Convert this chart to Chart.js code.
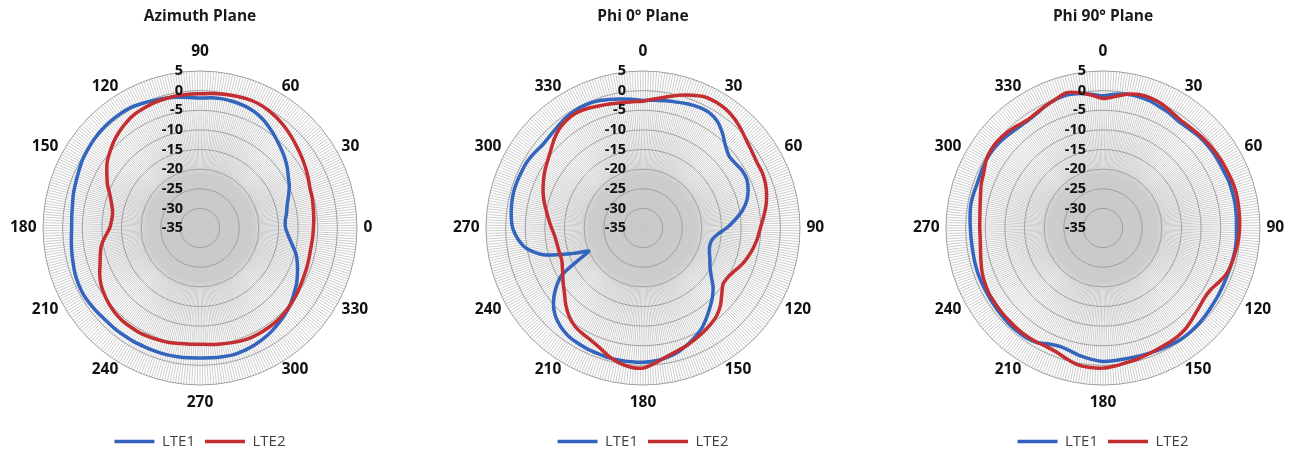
<!DOCTYPE html>
<html>
<head>
<meta charset="utf-8">
<script src="https://cdn.jsdelivr.net/npm/chart.js@4/dist/chart.umd.min.js"></script>
<style>
html,body{margin:0;padding:0;background:#fff;overflow:hidden;width:1296px;height:455px;}
.box{position:absolute;top:0;width:420px;height:462px;}
canvas{display:block;}
</style>
</head>
<body>
<div class="box" style="left:-10px"><canvas id="c1" width="420" height="462"></canvas></div>
<div class="box" style="left:433px"><canvas id="c2" width="420" height="462"></canvas></div>
<div class="box" style="left:893px"><canvas id="c3" width="420" height="462"></canvas></div>
<script>
// ---------- data ----------
const seriesNames = ['LTE1', 'LTE2'];
const chartTitles = ['Azimuth Plane', 'Phi 0\u00B0 Plane', 'Phi 90\u00B0 Plane'];

// radial axis (dB)
const radialMin = -35, radialMax = 5, radialStep = 5;
const innerShadeTo = -20;   // the dense-spoke grey core reaches this ring

// angle labels, clockwise from the top
const azimuthAngleLabels = ['90','60','30','0','330','300','270','240','210','180','150','120'];
const phiAngleLabels = ['0','30','60','90','120','150','180','210','240','270','300','330'];

// measurement angles (degrees)
const step5Angles = Array.from({length: 72}, (_, k) => k * 5);
const azAngles = step5Angles;
const phi0Angles = [...step5Angles.slice(0, 50), 247, ...step5Angles.slice(50)];
const phi90Angles = step5Angles;

// Azimuth plane (angle counter-clockwise, 0 at right)
const azLTE1 = [-13.2,-13.2,-12.6,-12.0,-11.0,-9.9,-9.0,-7.9,-6.9,-6.0,
  -5.0,-4.0,-3.0,-2.3,-1.9,-1.7,-1.6,-1.7,-1.9,-1.6,
  -1.2,-0.8,-0.4,0.0,0.4,0.5,0.5,0.4,0.2,-0.1,
  -0.4,-0.9,-1.3,-1.6,-2.0,-2.2,-2.3,-2.1,-1.8,-1.5,
  -1.1,-0.9,-0.8,-1.0,-1.2,-1.4,-1.4,-1.5,-1.5,-1.6,
  -1.6,-1.6,-1.7,-1.8,-1.9,-1.8,-1.7,-1.6,-1.8,-2.1,
  -2.5,-3.0,-3.6,-4.2,-4.9,-5.8,-6.6,-7.6,-8.6,-9.7,
  -11.2,-12.4];
const azLTE2 = [-6.1,-5.9,-5.7,-5.4,-5.2,-4.6,-4.0,-3.4,-2.8,-2.1,
  -1.4,-0.8,-0.3,0.0,0.0,-0.2,-0.4,-0.6,-0.8,-0.8,
  -0.8,-0.9,-1.0,-1.3,-1.6,-2.2,-3.0,-3.9,-5.0,-6.1,
  -7.6,-9.0,-10.6,-11.7,-12.4,-12.4,-12.0,-10.8,-9.5,-8.7,
  -7.9,-6.8,-5.9,-5.3,-4.8,-4.4,-4.2,-4.2,-4.2,-4.4,
  -4.6,-4.8,-5.1,-5.3,-5.4,-5.2,-5.0,-4.7,-4.4,-4.2,
  -4.2,-4.2,-4.3,-4.5,-4.8,-5.1,-5.5,-5.8,-6.0,-6.2,
  -6.3,-6.2];

// Phi 0 plane (clockwise, 0 at top)
const phi0LTE1 = [-2.5,-2.3,-2.1,-1.8,-1.4,-1.1,-1.1,-1.9,-3.5,-5.3,
  -6.4,-6.3,-5.8,-5.8,-6.5,-7.6,-9.3,-11.5,-13.7,-16.0,
  -17.2,-17.4,-17.0,-16.2,-15.3,-13.8,-11.7,-10.0,-8.5,-6.9,
  -5.3,-4.1,-3.0,-2.0,-1.4,-1.0,-0.8,-0.8,-0.8,-0.8,
  -1.0,-1.1,-1.3,-1.6,-2.3,-3.4,-5.2,-7.8,-11.2,-18.3,
  -20.0,
  -16.1,-8.7,-4.9,-3.0,-1.8,-1.3,-1.0,-0.8,-0.8,-0.9,
  -1.0,-1.4,-1.8,-1.6,-1.2,-0.7,-0.4,-0.4,-0.6,-1.1,-1.6,-2.1];
const phi0LTE2 = [-2.7,-2.0,-1.1,0.0,1.0,1.9,2.1,1.9,1.3,0.4,
  -0.5,-1.1,-1.5,-1.5,-1.8,-2.4,-3.2,-4.2,-5.1,-5.7,
  -6.4,-7.2,-8.1,-9.2,-10.0,-10.1,-8.8,-7.1,-5.8,-5.0,
  -4.3,-3.7,-3.0,-2.4,-1.6,-0.4,0.7,0.6,-0.1,-1.2,
  -2.6,-3.5,-4.0,-4.6,-5.7,-7.2,-8.9,-10.2,-11.4,-12.3,
  -12.6,
  -12.8,-12.8,-12.7,-12.4,-11.7,-10.9,-10.0,-8.9,-7.9,-7.0,
  -6.1,-5.3,-4.3,-3.0,-1.9,-1.3,-1.1,-1.4,-1.9,-2.3,-2.6,-2.7];

// Phi 90 plane (clockwise, 0 at top)
const phi90LTE1 = [-1.3,-0.8,-0.4,-0.3,-0.5,-0.9,-1.2,-1.7,-1.6,-1.3,
  -1.1,-1.0,-1.0,-1.0,-0.8,-0.8,-0.8,-0.9,-1.0,-0.9,
  -0.9,-1.0,-1.1,-1.1,-1.0,-0.9,-0.7,-0.5,-0.4,-0.4,
  -0.6,-0.8,-1.0,-1.1,-1.2,-1.1,-1.0,-1.4,-1.9,-2.6,
  -2.9,-2.4,-1.3,-0.9,-0.8,-0.8,-0.9,-1.0,-1.1,-1.1,
  -1.1,-1.2,-1.3,-1.3,-1.2,-1.0,-0.8,-0.9,-1.0,-0.8,
  -0.6,-0.6,-0.8,-1.2,-1.5,-1.6,-1.3,-0.6,-0.1,0.1,-0.2,-0.8];
const phi90LTE2 = [-2.0,-1.4,-0.4,0.2,0.3,0.0,-0.6,-1.1,-1.1,-0.9,
  -0.7,-0.5,-0.3,-0.2,0.0,0.1,0.0,-0.1,-0.2,-0.4,
  -0.7,-1.0,-1.4,-2.4,-3.4,-3.6,-3.2,-2.6,-1.9,-1.5,
  -1.3,-1.2,-0.9,-0.5,-0.2,0.3,0.7,0.7,0.5,-0.3,
  -1.2,-1.5,-1.4,-1.3,-1.3,-1.4,-1.4,-1.5,-1.5,-1.8,
  -2.2,-2.8,-3.3,-3.6,-3.6,-3.5,-3.2,-2.7,-2.0,-1.5,
  -0.6,-0.2,-0.2,-0.5,-1.0,-1.4,-1.1,-0.6,0.0,0.7,0.0,-1.0];

// ---------- styling ----------
const BLUE = 'rgb(52,101,190)';
const RED = 'rgb(196,46,48)';
const SPOKES = 360;          // one angle line per degree
const FONT = '"Open Sans", "DejaVu Sans", sans-serif';
Chart.defaults.font.family = FONT;

function buildLabels(angleLabels) {
  const out = new Array(SPOKES).fill('');
  const every = SPOKES / angleLabels.length;
  angleLabels.forEach((t, k) => { out[k * every] = t; });
  return out;
}
function expand(angles, values, toIndex) {
  const out = new Array(SPOKES).fill(null);
  angles.forEach((a, k) => { out[toIndex(a)] = values[k]; });
  return out;
}
const azIndex = a => ((90 - a) % 360 + 360) % 360;
const phiIndex = a => a % 360;

const polarDecor = {
  id: 'polarDecor',
  beforeDatasetsDraw(chart) {
    const s = chart.scales.r, ctx = chart.ctx;
    ctx.save();
    // soft grey core where the spokes converge
    const rc = s.getDistanceFromCenterForValue(innerShadeTo);
    const g = ctx.createRadialGradient(s.xCenter, s.yCenter, 0, s.xCenter, s.yCenter, rc + 4);
    g.addColorStop(0, 'rgba(200,200,200,1)');
    g.addColorStop(0.85, 'rgba(204,204,204,0.95)');
    g.addColorStop(1, 'rgba(210,210,210,0)');
    ctx.fillStyle = g;
    ctx.beginPath();
    ctx.arc(s.xCenter, s.yCenter, rc + 4, 0, Math.PI * 2);
    ctx.fill();
    // rings
    ctx.strokeStyle = '#a0a0a0';
    ctx.lineWidth = 1;
    s.ticks.forEach(t => {
      const d = s.getDistanceFromCenterForValue(t.value);
      if (d <= 0) return;
      ctx.beginPath();
      ctx.arc(s.xCenter, s.yCenter, d, 0, Math.PI * 2);
      ctx.stroke();
    });
    ctx.restore();
  },
  afterDatasetsDraw(chart) {
    const s = chart.scales.r, ctx = chart.ctx;
    ctx.save();
    ctx.fillStyle = '#111';
    ctx.textBaseline = 'middle';
    ctx.font = 'bold 14.5px ' + FONT;
    ctx.textAlign = 'right';
    s.ticks.forEach(t => {
      const d = s.getDistanceFromCenterForValue(t.value);
      ctx.fillText(String(t.value), s.xCenter - 17, s.yCenter - d);
    });
    ctx.font = 'bold 15.5px ' + FONT;
    const labels = chart.data.labels;
    labels.forEach((lab, i) => {
      if (lab === '') return;
      const deg = i * 360 / labels.length;
      if (deg === 0) {
        ctx.textAlign = 'center';
        ctx.fillText(lab, s.xCenter, s.yCenter - s.drawingArea - 19);
      } else if (deg === 180) {
        ctx.textAlign = 'center';
        ctx.fillText(lab, s.xCenter, s.yCenter + s.drawingArea + 17.5);
      } else {
        const p = s.getPointPosition(i, s.drawingArea + 6.5);
        ctx.textAlign = deg < 180 ? 'left' : 'right';
        ctx.fillText(lab, p.x, p.y);
      }
    });
    ctx.restore();
  }
};

function makeChart(id, title, angleLabels, angles, lte1, lte2, toIndex) {
  return new Chart(document.getElementById(id), {
    type: 'radar',
    data: {
      labels: buildLabels(angleLabels),
      datasets: [
        {label: seriesNames[0], data: expand(angles, lte1, toIndex), borderColor: BLUE, backgroundColor: BLUE,
         borderWidth: 3.5, pointRadius: 0, pointHoverRadius: 0, fill: false, tension: 0.25, spanGaps: true, order: 1},
        {label: seriesNames[1], data: expand(angles, lte2, toIndex), borderColor: RED, backgroundColor: RED,
         borderWidth: 3.5, pointRadius: 0, pointHoverRadius: 0, fill: false, tension: 0.25, spanGaps: true, order: 0}
      ]
    },
    options: {
      responsive: false,
      animation: false,
      events: [],
      layout: {padding: {bottom: 3}},
      scales: {
        r: {
          min: radialMin, max: radialMax, beginAtZero: false,
          ticks: {stepSize: radialStep, display: false},
          grid: {display: false},
          angleLines: {display: true, color: '#cdcdcd', lineWidth: 1},
          pointLabels: {display: false},
          afterFit(s) { s.xCenter = 210; s.yCenter = 228; s.drawingArea = 157; }
        }
      },
      plugins: {
        tooltip: {enabled: false},
        title: {display: true, text: title, color: '#1a1a1a',
                font: {size: 15.5, weight: 'bold', family: FONT}, padding: {top: 7, bottom: 0}},
        legend: {
          position: 'bottom',
          labels: {usePointStyle: true, pointStyle: 'line', pointStyleWidth: 40,
                   color: '#404040', font: {size: 15, family: FONT}, padding: 10,
                   sort: (a, b) => a.datasetIndex - b.datasetIndex}
        }
      }
    },
    plugins: [polarDecor]
  });
}

makeChart('c1', chartTitles[0], azimuthAngleLabels, azAngles, azLTE1, azLTE2, azIndex);
makeChart('c2', chartTitles[1], phiAngleLabels, phi0Angles, phi0LTE1, phi0LTE2, phiIndex);
makeChart('c3', chartTitles[2], phiAngleLabels, phi90Angles, phi90LTE1, phi90LTE2, phiIndex);
</script>
</body>
</html>
